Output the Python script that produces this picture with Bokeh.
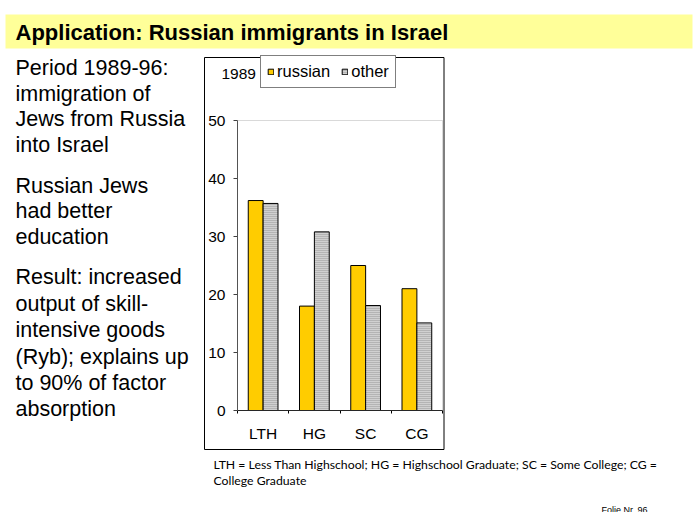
from bokeh.plotting import figure
from bokeh.models import (Range1d, FixedTicker, Label, BoxAnnotation, Legend,
                          LegendItem, LinearAxis)
from bokeh.embed import file_html
from bokeh.resources import INLINE
import numpy as np

# ---- data ----
categories = ["LTH", "HG", "SC", "CG"]
russian = [36.2, 18.0, 25.0, 21.0]
other = [35.7, 30.8, 18.1, 15.1]
y_ticks = [0, 10, 20, 30, 40, 50]
series_names = ["russian", "other"]
year_label = "1989"
title_text = "Application: Russian immigrants in Israel"
bullet_lines = [
    "Period 1989-96:", "immigration of", "Jews from Russia", "into Israel",
    "Russian Jews", "had better", "education",
    "Result: increased", "output of skill-", "intensive goods",
    "(Ryb); explains up", "to 90% of factor", "absorption",
]
footnote_lines = [
    "LTH = Less Than Highschool; HG = Highschool Graduate; SC = Some College; CG =",
    "College Graduate",
]
slide_no = "Folie Nr. 96"

# ---- layout (pixels on the slide) ----
W, H = 700, 512
FL, FR, FT, FB = 237, 442, 120, 410          # chart plot area on the slide
NCAT = len(categories)
YMAX = y_ticks[-1]
ux = (FR - FL) / NCAT                          # px per category
uy = (FB - FT) / YMAX                          # px per value unit
ARIAL = "Liberation Sans"

p = figure(width=W, height=H,
           x_range=Range1d(-FL / ux, (W - FL) / ux),
           y_range=Range1d(-(H - FB) / uy, FB / uy),
           output_backend="svg", toolbar_location=None, title=None,
           x_axis_location=None, y_axis_location=None,
           min_border=0, min_border_left=0, min_border_right=0,
           min_border_top=0, min_border_bottom=0)
p.background_fill_color = "white"
p.border_fill_color = "white"
p.outline_line_color = None
p.grid.visible = False


def sx(x):
    return x


def sy(y):
    return H - y


def box(l, t, r, b, fill=None, line=None):
    p.add_layout(BoxAnnotation(left=sx(l), right=sx(r), top=sy(t), bottom=sy(b),
                               left_units="screen", right_units="screen",
                               top_units="screen", bottom_units="screen",
                               fill_color=fill if fill else "white",
                               fill_alpha=1 if fill else 0,
                               line_color=line, line_width=1, line_alpha=1))


def lab(text, x, y, size, font=ARIAL, style="normal", align="left", color="black"):
    # y is the wanted baseline (from the top); compensate the renderer's offset
    y_adj = y - 0.38 * size
    p.add_layout(Label(x=sx(x), y=sy(y_adj), x_units="screen", y_units="screen",
                       text=text, text_font=font, text_font_size=f"{size}px",
                       text_font_style=style, text_align=align,
                       text_baseline="alphabetic", text_color=color))


# title bar
box(5, 14, 692, 48, fill="#FFFF99")
lab(title_text, 15, 40, 22, style="bold")

# chart box
box(204, 57, 443.5, 449, line="black")

# plot area outline (top / right edges in grey)
p.add_layout(BoxAnnotation(left=0, right=NCAT, bottom=0, top=YMAX,
                           fill_alpha=0, line_color="#808080", line_width=1))

# bars
idx = np.arange(NCAT)
r1 = p.vbar(x=idx + 0.355, top=russian, bottom=0, width=0.29,
            fill_color="#FFCC00", line_color="black", line_width=1)
r2 = p.vbar(x=idx + 0.645, top=other, bottom=0, width=0.29,
            fill_color="#b4b4b4", line_color="black", line_width=1,
            hatch_pattern="horizontal_line", hatch_color="#ececec",
            hatch_scale=2, hatch_weight=1)

# axes fixed at the plot-area edges
xa = LinearAxis(fixed_location=0, bounds=(0, NCAT),
                ticker=FixedTicker(ticks=list(idx + 0.5),
                                   minor_ticks=list(range(NCAT + 1))))
xa.major_label_overrides = {float(i + 0.5): c for i, c in enumerate(categories)}
xa.major_tick_line_color = None
xa.major_tick_out = 0
xa.major_tick_in = 0
xa.minor_tick_out = 3
xa.minor_tick_in = 0
xa.minor_tick_line_color = "black"
xa.axis_line_color = "black"
xa.major_label_standoff = 11
xa.major_label_text_font = ARIAL
xa.major_label_text_font_size = "15.5px"
xa.major_label_text_color = "black"
p.add_layout(xa, "below")

ya = LinearAxis(fixed_location=0, bounds=(0, YMAX),
                ticker=FixedTicker(ticks=y_ticks))
ya.minor_tick_line_color = None
ya.major_tick_out = 4
ya.major_tick_in = 0
ya.major_tick_line_color = "#404040"
ya.axis_line_color = "#404040"
ya.major_label_standoff = 8
ya.major_label_text_font = ARIAL
ya.major_label_text_font_size = "15.5px"
ya.major_label_text_color = "black"
p.add_layout(ya, "left")

# left bullet text
baselines = [76, 101.5, 127, 152.5, 193.5, 219, 244.5,
             285, 311.4, 337.8, 364.2, 390.6, 417]
for t, b in zip(bullet_lines, baselines):
    lab(t, 15, b, 21.5)

# year label
lab(year_label, 221, 79, 15.5)

# legend
legend = Legend(items=[LegendItem(label=series_names[0], renderers=[r1]),
                       LegendItem(label=series_names[1], renderers=[r2])],
                location=(sx(260), sy(88)), orientation="horizontal",
                glyph_width=7, glyph_height=7, label_standoff=3, spacing=11,
                padding=6, margin=0, label_height=16,
                border_line_color="black", border_line_width=1,
                background_fill_color="white", background_fill_alpha=1,
                label_text_font=ARIAL, label_text_font_size="16.5px",
                label_text_color="black")
p.add_layout(legend)

# footnote
lab(footnote_lines[0], 213, 469, 12.25, font="Lato")
lab(footnote_lines[1], 213, 484.5, 12.25, font="Lato")

# slide number
lab(slide_no, 601, 513, 9)

open("out.html", "w").write(file_html(p, INLINE))
